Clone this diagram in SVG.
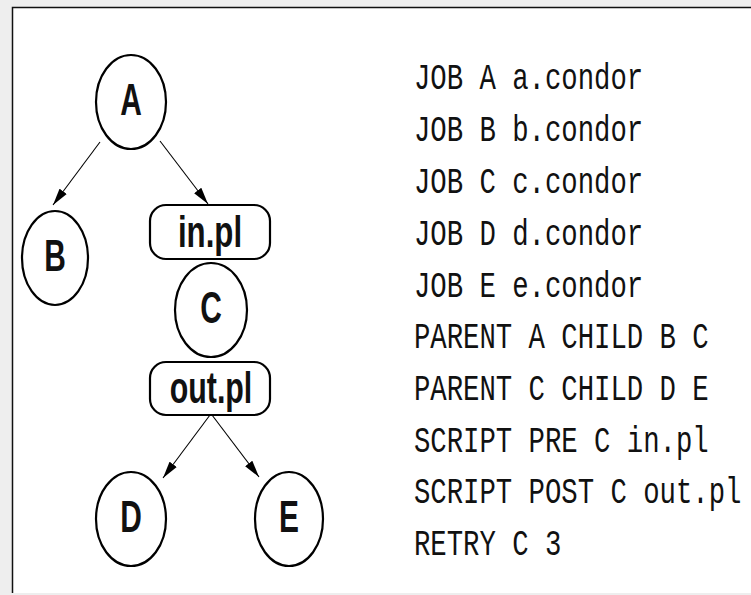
<svg xmlns="http://www.w3.org/2000/svg" width="751" height="595" viewBox="0 0 751 595">
<style>
.node{fill:#fff;stroke:#000;stroke-width:2.2}
.lbl{font-family:"Liberation Sans",Arial,sans-serif;font-weight:bold;font-size:44px;text-anchor:middle;fill:#111}
.edge{stroke:#000;stroke-width:1.1;fill:none;marker-end:url(#ah)}
.code{font-family:"Liberation Mono","Courier New",monospace;font-size:27.3px;fill:#111}
</style>
<defs>
<marker id="ah" markerWidth="18" markerHeight="10" refX="17" refY="5" orient="auto" markerUnits="userSpaceOnUse">
<path d="M0,0.5 L17,5 L0,9.5 Z" fill="#000"/>
</marker>
</defs>
<rect x="0" y="0" width="751" height="595" fill="#eeeeee"/>
<rect x="12" y="7" width="739" height="586" fill="#fff"/>
<path d="M12.5,593 V7.5 H751" stroke="#111" stroke-width="1.5" fill="none"/>
<g id="connectors">
<line class="edge" x1="100" y1="142" x2="53" y2="205"/>
<line class="edge" x1="160" y1="141" x2="208" y2="204"/>
<line class="edge" x1="210" y1="415" x2="163" y2="478"/>
<line class="edge" x1="212" y1="415" x2="259" y2="477"/>
</g>
<g id="node-A"><ellipse class="node" cx="131" cy="102" rx="35" ry="47"/><text class="lbl" transform="translate(131,115) scale(0.68,1)">A</text></g>
<g id="node-B"><ellipse class="node" cx="55" cy="258" rx="33" ry="47"/><text class="lbl" transform="translate(55,271) scale(0.68,1)">B</text></g>
<g id="node-inpl"><rect class="node" x="150" y="205" width="120" height="54" rx="16"/><text class="lbl" transform="translate(210,247) scale(0.71,1)">in.pl</text></g>
<g id="node-C"><ellipse class="node" cx="211" cy="310" rx="36" ry="47"/><text class="lbl" transform="translate(211,323) scale(0.68,1)">C</text></g>
<g id="node-outpl"><rect class="node" x="150" y="362" width="120" height="53" rx="16"/><text class="lbl" transform="translate(211,403) scale(0.69,1)">out.pl</text></g>
<g id="node-D"><ellipse class="node" cx="131" cy="519" rx="35" ry="47"/><text class="lbl" transform="translate(131,532) scale(0.68,1)">D</text></g>
<g id="node-E"><ellipse class="node" cx="289" cy="519" rx="34" ry="47"/><text class="lbl" transform="translate(289,532) scale(0.68,1)">E</text></g>
<g id="code">
<text class="code" transform="translate(414,89) scale(1,1.38)">JOB A a.condor</text>
<text class="code" transform="translate(414,141) scale(1,1.38)">JOB B b.condor</text>
<text class="code" transform="translate(414,193) scale(1,1.38)">JOB C c.condor</text>
<text class="code" transform="translate(414,245) scale(1,1.38)">JOB D d.condor</text>
<text class="code" transform="translate(414,297) scale(1,1.38)">JOB E e.condor</text>
<text class="code" transform="translate(414,348) scale(1,1.38)">PARENT A CHILD B C</text>
<text class="code" transform="translate(414,400) scale(1,1.38)">PARENT C CHILD D E</text>
<text class="code" transform="translate(414,452) scale(1,1.38)">SCRIPT PRE C in.pl</text>
<text class="code" transform="translate(414,503) scale(1,1.38)">SCRIPT POST C out.pl</text>
<text class="code" transform="translate(414,555) scale(1,1.38)">RETRY C 3</text>
</g>
</svg>
